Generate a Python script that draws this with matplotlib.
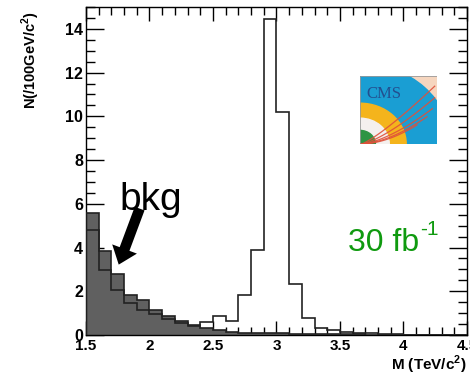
import numpy as np
import matplotlib
matplotlib.use("Agg")
import matplotlib.pyplot as plt
from matplotlib.patches import Wedge, Rectangle

# ---- data (events per 100 GeV bin, 1.5 - 4.5 TeV) ----
bin_lo, bin_hi = 1.5, 4.5
bkg = [5.58, 3.83, 2.77, 1.83, 1.62, 1.14, 0.86, 0.62, 0.47, 0.33,
       0.24, 0.15, 0.10, 0.08, 0.08, 0.07, 0.06, 0.05, 0.05, 0.04,
       0.03, 0.03, 0.02, 0.02, 0.02, 0.01, 0.01, 0.01, 0.01, 0.01]
signal = [4.78, 2.97, 2.05, 1.47, 1.14, 0.96, 0.75, 0.55, 0.42, 0.61,
          0.85, 0.62, 1.83, 3.90, 14.45, 10.2, 2.33, 0.80, 0.33, 0.25,
          0.15, 0.10, 0.10, 0.05, 0.05, 0.0, 0.0, 0.0, 0.0, 0.0]
xticks = [1.5, 2, 2.5, 3, 3.5, 4, 4.5]
xtick_labels = ["1.5", "2", "2.5", "3", "3.5", "4", "4.5"]
yticks = [0, 2, 4, 6, 8, 10, 12, 14]
ytick_labels = ["0", "2", "4", "6", "8", "10", "12", "14"]

edges = np.linspace(bin_lo, bin_hi, len(bkg) + 1)

plt.rcParams['font.family'] = ['Liberation Sans', 'DejaVu Sans']
plt.rcParams['axes.unicode_minus'] = False
plt.rcParams['mathtext.fontset'] = 'custom'
plt.rcParams['mathtext.rm'] = 'Liberation Sans'
plt.rcParams['mathtext.bf'] = 'Liberation Sans:bold'

fig = plt.figure(figsize=(4.70, 3.74), dpi=100)
ax = fig.add_axes([86/470, 1-335/374, (467-86)/470, (335-7)/374])

ax.stairs(bkg, edges, fill=True, color='#606060', zorder=2)
ax.stairs(bkg, edges, color='#222222', lw=1.2, zorder=3)
ax.stairs(signal, edges, color='#222222', lw=1.2, zorder=4)

ax.set_xlim(1.5, 4.5)
ax.set_ylim(0, 15)
ax.set_xticks(xticks)
ax.set_xticklabels(xtick_labels, fontweight='bold', fontsize=11)
ax.set_yticks(yticks)
ax.set_yticklabels(ytick_labels, fontweight='bold', fontsize=11.5)
ax.set_xticks(np.arange(1.5, 4.51, 0.1), minor=True)
ax.set_yticks(np.arange(0, 15.01, 0.5), minor=True)
ax.tick_params(axis='both', which='both', direction='in', top=True, right=True,
               width=1.0, colors='black')
ax.tick_params(axis='y', which='major', length=13, pad=2)
ax.tick_params(axis='y', which='minor', length=6.5)
ax.tick_params(axis='x', which='major', length=10, pad=3)
ax.tick_params(axis='x', which='minor', length=5.5)
for s in ax.spines.values():
    s.set_linewidth(1.0)

fig.text(31/470, 1-60/374, r"N(/100GeV/c$^{\mathbf{2}}$)", rotation=90,
         ha='center', va='center', fontsize=10.5, fontweight='bold')
fig.text(467/470, 1-369.5/374, r"M (TeV/c$^{\mathbf{2}}$)", ha='right',
         va='baseline', fontsize=11, fontweight='bold')

# bkg annotation
ax.text(1.765, 5.7, "bkg", fontsize=28, ha='left', va='baseline', zorder=6)
ax.annotate("", xy=(1.75, 3.1), xytext=(1.93, 5.9),
            arrowprops=dict(arrowstyle="simple,head_length=1.2,head_width=1.9,tail_width=0.75",
                            color='black', lw=0), zorder=6)

# luminosity
lum = ax.text(3.56, 3.85, "30 fb", fontsize=23, color='#0f9a0f',
              ha='left', va='baseline', zorder=6)
ax.annotate("-1", xy=(1.0, 0.62), xycoords=lum, xytext=(1, 0),
            textcoords='offset points', fontsize=15, color='#0f9a0f',
            ha='left', va='bottom', zorder=6)

# CMS logo (schematic)
lax = fig.add_axes([360/470, 1-144/374, 77/470, 68/374])
lax.set_xlim(0, 1)
lax.set_ylim(0, 1)
lax.axis('off')
lax.add_patch(Rectangle((0, 0), 1, 1, color='#f6d6bf'))
lax.add_patch(Wedge((0, 0), 1.18, 0, 90, color='#1a9ed3'))
lax.add_patch(Wedge((0, 0), 0.60, 0, 90, color='#f4b41c'))
lax.add_patch(Wedge((0, 0), 0.38, 0, 90, color='#f4f0ee'))
lax.add_patch(Wedge((0, 0), 0.20, 0, 90, color='#2e9444'))
t = np.linspace(0, 1, 50)
for k, (ex, ey) in enumerate([(0.95, 0.85), (0.95, 0.68), (0.92, 0.52), (0.85, 0.40), (0.72, 0.28)]):
    xs = 0.02 + ex * t
    ys = ey * t ** (1.2 + 0.15 * k)
    lax.plot(xs, ys, color='#e0503a', lw=0.9, alpha=0.9)
lax.text(0.08, 0.74, "CMS", fontsize=12, color='#234f8f', family='Liberation Serif',
         va='center', ha='left')
lax.add_patch(Rectangle((0, 0), 1, 1, fill=False, ec='#999999', lw=0.6))

fig.savefig("out.png", dpi=100)
